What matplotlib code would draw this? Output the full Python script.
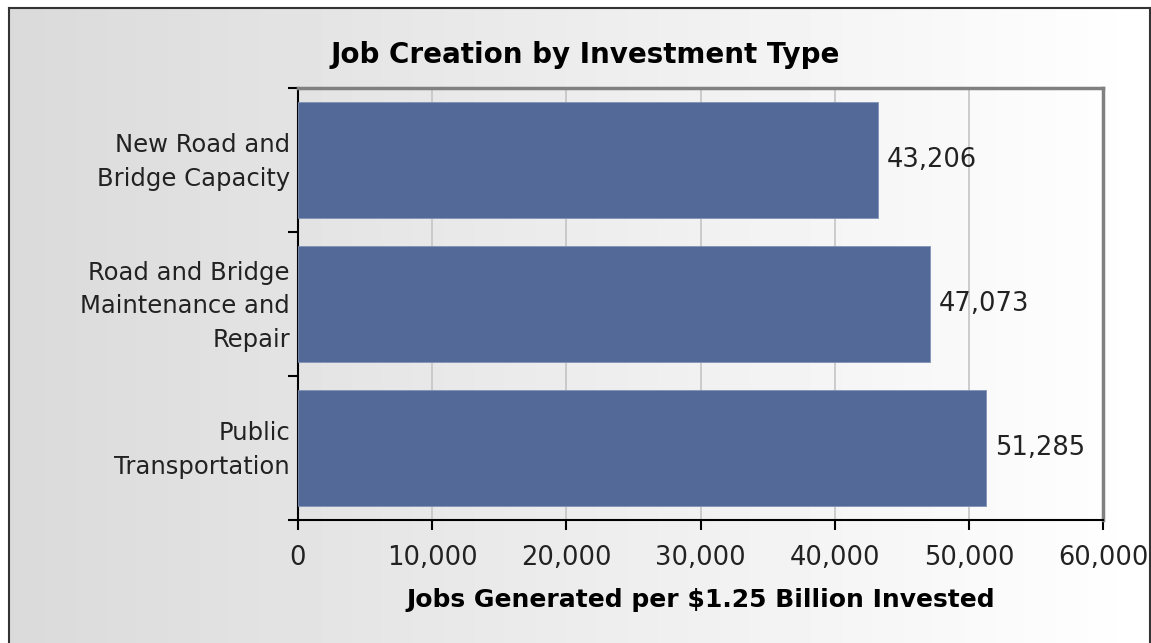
import numpy as np
import matplotlib.pyplot as plt
from matplotlib.lines import Line2D

categories = ["New Road and\nBridge Capacity",
              "Road and Bridge\nMaintenance and\nRepair",
              "Public\nTransportation"]
jobs = [43206, 47073, 51285]
xticks = [0, 10000, 20000, 30000, 40000, 50000, 60000]

W, H = 1151, 643
fig = plt.figure(figsize=(W / 100, H / 100), dpi=100)
fig.patch.set_facecolor("white")

# gradient background inside the frame
bg = fig.add_axes([9 / W, 0, 1 - 9 / W - 1 / W, 1 - 8 / H], zorder=-10)
grad = np.linspace(0.855, 1.0, 256).reshape(1, -1)
bg.imshow(grad, aspect="auto", cmap="gray", vmin=0, vmax=1,
          extent=[0, 1, 0, 1], interpolation="bilinear")
bg.set_axis_off()

# frame lines
fig.add_artist(Line2D([9 / W, 9 / W], [0, 1 - 8 / H], color="#333333", lw=1.5))
fig.add_artist(Line2D([9 / W, 1150 / W], [1 - 8 / H, 1 - 8 / H], color="#333333", lw=1.5))
fig.add_artist(Line2D([1150 / W, 1150 / W], [0, 1 - 8 / H], color="#333333", lw=1.5))

ax = fig.add_axes([298 / W, 1 - 520 / H, (1103 - 298) / W, (520 - 88) / H])
ax.patch.set_alpha(0)

y = np.arange(len(categories))
ax.barh(y, jobs, height=0.8, color="#536a98", edgecolor="#7f93b8", lw=0.6, zorder=3)
for yi, v in zip(y, jobs):
    ax.text(v + 650, yi, f"{v:,}", va="center", ha="left", fontsize=18.5, color="#222222")

# category labels left of the axis
for yi, cat in zip(y, categories):
    ax.annotate(cat, xy=(0, yi), xycoords=("axes fraction", "data"),
                xytext=(-8, -2), textcoords="offset pixels",
                ha="right", va="center", fontsize=17.5, color="#222222",
                linespacing=1.5, annotation_clip=False)

ax.set_xlim(0, 60000)
ax.set_ylim(2.5, -0.5)
ax.set_xticks(xticks)
ax.set_xticklabels([f"{t:,}" for t in xticks], fontsize=18.5, color="#222222")
ax.set_yticks([-0.5, 0.5, 1.5, 2.5])
ax.set_yticklabels([])
ax.tick_params(axis="both", which="major", length=7, width=1.5, direction="out", color="black")
ax.tick_params(axis="x", pad=11)
ax.grid(axis="x", color="#c4c4c4", lw=1.2, zorder=0)
ax.set_axisbelow(True)

for s in ["left", "bottom"]:
    ax.spines[s].set_color("black")
    ax.spines[s].set_linewidth(1.5)
for s in ["top", "right"]:
    ax.spines[s].set_color("#808080")
    ax.spines[s].set_linewidth(2.5)

ax.set_xlabel("Jobs Generated per $1.25 Billion Invested", fontsize=18,
              fontweight="bold", labelpad=12)
fig.text(585 / W, 1 - 55 / H, "Job Creation by Investment Type", fontsize=20,
         fontweight="bold", ha="center", va="center")

fig.savefig("out.png", dpi=100)
